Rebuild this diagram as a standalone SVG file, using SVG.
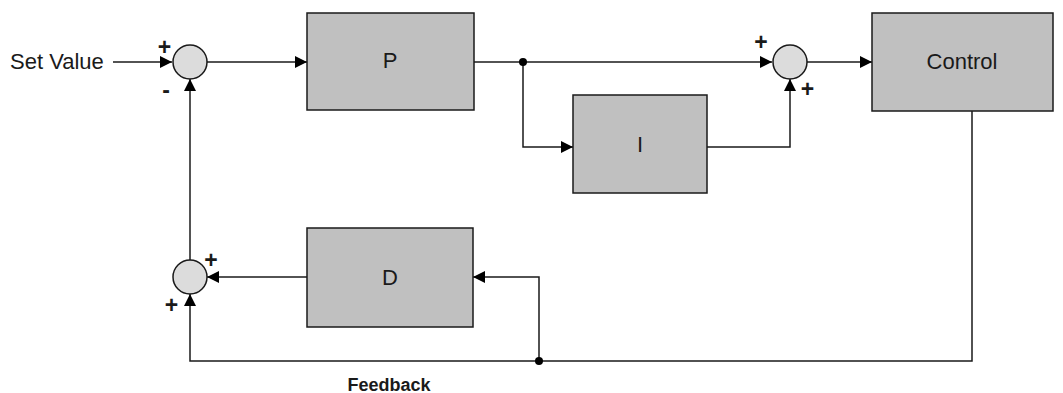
<svg xmlns="http://www.w3.org/2000/svg" width="1063" height="393" viewBox="0 0 1063 393">
<style>
.box{fill:#c0c0c0;stroke:#1a1a1a;stroke-width:1.5}
.sum{fill:#dcdcdc;stroke:#1a1a1a;stroke-width:1.5}
.lbl{font-family:"Liberation Sans",Arial,sans-serif;font-size:22px;fill:#1a1a1a;text-anchor:middle}
.sgn{font-family:"Liberation Sans",Arial,sans-serif;font-size:23px;font-weight:bold;fill:#1a1a1a;text-anchor:middle}
.ln{fill:none;stroke:#1a1a1a;stroke-width:1.5}
</style>
<defs>
<marker id="ah" viewBox="0 0 10 10" refX="10" refY="5" markerWidth="17" markerHeight="12" markerUnits="userSpaceOnUse" orient="auto"><path d="M0,0 L10,5 L0,10 z" fill="#000"/></marker>
</defs>
<rect width="1063" height="393" fill="#fff"/>
<g id="connectors">
<path class="ln" d="M113,62 H172" marker-end="url(#ah)"/>
<path class="ln" d="M207,62 H307" marker-end="url(#ah)"/>
<path class="ln" d="M474,62 H772" marker-end="url(#ah)"/>
<path class="ln" d="M807,62 H872" marker-end="url(#ah)"/>
<path class="ln" d="M523,62 V147 H573" marker-end="url(#ah)"/>
<path class="ln" d="M707,147 H790 V79" marker-end="url(#ah)"/>
<path class="ln" d="M972,111 V361 H190 V294" marker-end="url(#ah)"/>
<path class="ln" d="M539,361 V277 H473" marker-end="url(#ah)"/>
<path class="ln" d="M307,277 H207" marker-end="url(#ah)"/>
<path class="ln" d="M190,260 V79" marker-end="url(#ah)"/>
<circle cx="523" cy="62" r="4" fill="#000"/>
<circle cx="539" cy="361" r="4" fill="#000"/>
</g>
<g id="setvalue"><text class="lbl" x="10" y="69" style="text-anchor:start">Set Value</text></g>
<g id="sum1"><circle class="sum" cx="190" cy="62" r="17"/><text class="sgn" x="164.5" y="55">+</text><text class="sgn" x="166" y="98">-</text></g>
<g id="P"><rect class="box" x="307" y="13" width="167" height="97"/><text class="lbl" x="390" y="68">P</text></g>
<g id="sum2"><circle class="sum" cx="790" cy="62" r="17"/><text class="sgn" x="761" y="50">+</text><text class="sgn" x="807.5" y="97">+</text></g>
<g id="Control"><rect class="box" x="872" y="13" width="181" height="98"/><text class="lbl" x="962" y="69">Control</text></g>
<g id="I"><rect class="box" x="573" y="95" width="134" height="98"/><text class="lbl" x="640" y="152">I</text></g>
<g id="D"><rect class="box" x="307" y="228" width="166" height="99"/><text class="lbl" x="390" y="285">D</text></g>
<g id="sum3"><circle class="sum" cx="190" cy="277" r="17"/><text class="sgn" x="211" y="268">+</text><text class="sgn" x="171.5" y="313">+</text></g>
<g id="feedback"><text class="lbl" x="389" y="391" style="font-size:18px;font-weight:bold">Feedback</text></g>
</svg>
